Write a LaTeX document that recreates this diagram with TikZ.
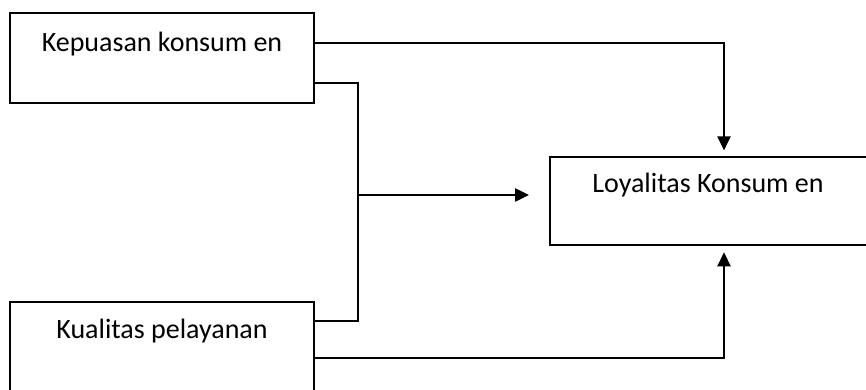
\documentclass[tikz,border=0pt]{standalone}
\usepackage{fontspec}
\setmainfont{Carlito}
\usetikzlibrary{arrows.meta}
\begin{document}
\begin{tikzpicture}[x=0.75pt,y=-0.75pt,
  box/.style={draw, line width=1pt, rectangle, inner sep=0pt},
  lbl/.style={anchor=base, inner sep=0pt, font=\fontsize{21}{25}\selectfont},
  conn/.style={line width=1pt},
  arr/.style={conn, -{Triangle[length=10.5pt,width=10pt]}}]
\useasboundingbox (0,0) rectangle (866,389);
\clip (0,0) rectangle (866,389);
\node[box, minimum width=228pt, minimum height=67.5pt] (k) at (162,58) {};
\node[box, minimum width=228pt, minimum height=67.5pt] (q) at (162,347) {};
\node[box, minimum width=240pt, minimum height=66pt] (l) at (710,201) {};
\node[lbl] (kt) at (162,51) {Kepuasan konsum en};
\node[lbl] (qt) at (162,338) {Kualitas pelayanan};
\node[lbl] (lt) at (708,192) {Loyalitas Konsum en};
\coordinate (j) at (358,195);
\coordinate (hend) at (529,195);
\draw[arr, shorten >=4.5pt] (k.east |- 0,43) -| (724,0 |- l.north);
\draw[conn] (k.east |- 0,83) -- (358,83) -- (358,321) -- (q.east |- 0,321);
\draw[arr] (j) -- (hend);
\draw[arr, shorten >=5pt] (q.east |- 0,358) -| (724,0 |- l.south);
\end{tikzpicture}
\end{document}
